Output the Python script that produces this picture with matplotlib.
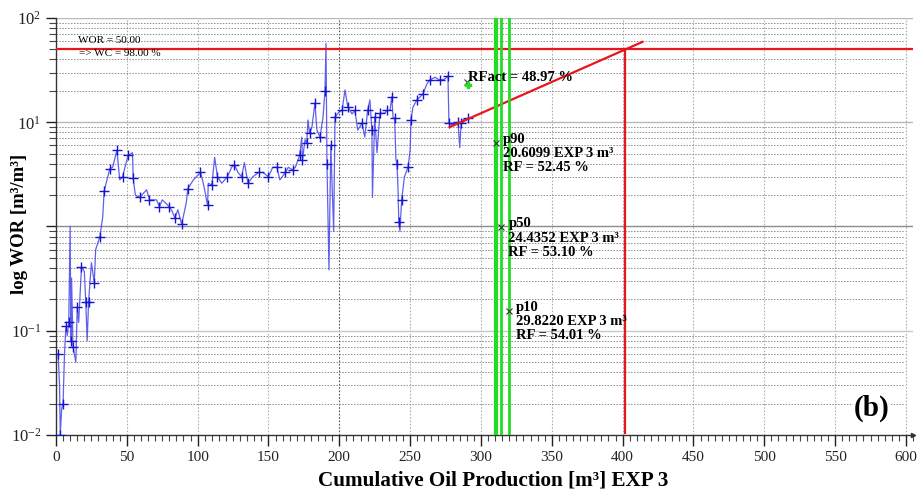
import math
import matplotlib
matplotlib.use('Agg')
import matplotlib.pyplot as plt
from matplotlib.ticker import MultipleLocator, LogLocator, FuncFormatter, NullFormatter

plt.rcParams['font.family'] = ['Liberation Serif', 'DejaVu Serif']
plt.rcParams['mathtext.default'] = 'regular'

# ---- data ----
cum_oil = [1.5, 2.5, 3, 4, 5, 6, 7, 8, 9, 10,
           10.5, 11, 12, 14, 15, 16, 18, 20, 21, 22,
           23, 25, 27, 28, 31, 33, 34, 36, 38, 40,
           43, 45, 47, 50, 51, 54, 54.5, 56, 59, 64,
           66, 71, 73, 75, 80, 82, 84, 86, 88.7, 92,
           93, 97, 102, 104, 107, 107.5, 110, 112, 114, 117,
           121, 124, 126, 128.5, 131, 133, 135.5, 139, 143, 146,
           150, 153, 156, 158, 162, 164, 167, 169, 172, 173.5,
           174, 175.8, 177, 177.9, 179, 180.7, 182.8, 184.2, 186.4, 188.5,
           189.9, 190.6, 191.3, 192.7, 194, 196, 197, 199, 202, 204,
           206, 209, 211, 213, 216, 218, 220, 221.6, 223, 223.4,
           225, 226.6, 228.7, 232, 233.7, 235.8, 237, 238, 239, 240,
           240.7, 241.4, 242, 242.8, 244, 246, 248.5, 250, 250.6, 252,
           254.8, 257, 259, 262, 264, 267.5, 271, 274.6, 276.7, 277,
           277.4, 280, 283.8, 285, 286, 287, 290.8]
wor = [0.06, 0.03, 0.01, 0.018, 0.02, 0.06, 0.11, 0.09, 0.12, 1.0,
       0.08, 0.32, 0.07, 0.05, 0.17, 0.12, 0.41, 0.37, 0.19, 0.08,
       0.19, 0.45, 0.29, 0.6, 0.8, 1.24, 2.2, 2.8, 3.6, 3.7,
       5.4, 2.8, 3.0, 4.35, 4.8, 5.1, 2.9, 2.0, 1.9, 2.25,
       1.8, 1.8, 1.55, 1.8, 1.55, 1.4, 1.2, 1.45, 1.05, 1.7,
       2.3, 2.8, 3.3, 2.6, 1.6, 2.6, 2.5, 4.6, 3.0, 2.6,
       3.0, 3.7, 3.9, 3.3, 3.0, 4.1, 2.6, 3.0, 3.3, 3.3,
       3.0, 3.7, 3.7, 2.8, 3.3, 3.7, 3.5, 3.7, 4.8, 7.2,
       4.35, 6.8, 6.3, 10.5, 7.9, 9.0, 15.3, 8.4, 7.2, 11.2,
       20.0, 57.0, 4.0, 0.385, 6.0, 0.9, 11.2, 12.2, 13.1, 20.4,
       14.0, 12.0, 13.0, 8.4, 9.8, 7.2, 13.0, 16.4, 8.4, 1.9,
       11.2, 5.1, 12.2, 12.2, 13.0, 13.0, 17.5, 11.0, 11.0, 4.35,
       4.0, 2.4, 1.1, 0.9, 1.8, 3.0, 3.7, 5.4, 10.5, 14.0,
       16.4, 17.5, 18.7, 23.6, 25.4, 27.0, 25.4, 26.0, 28.0, 17.0,
       9.8, 9.4, 10.0, 5.7, 9.8, 10.5, 10.9]

wor_limit = 50.0
decline_x = [278, 414]
decline_y = [9.0, 59.0]
economic_limit_x = 402
p_labels = ['p90', 'p50', 'p10']
p_x = [310.6, 314.4, 319.8]
p_wor = [6.3, 0.98, 0.156]
p_reserves = ['20.6099', '24.4352', '29.8220']
p_rf = ['52.45', '53.10', '54.01']
rfact_x, rfact_y = 290, 24.4
rfact_text = 'RFact = 48.97 %'

# ---- figure ----
W, H = 918, 490
fig = plt.figure(figsize=(W / 100, H / 100), dpi=100)
x0, x1, y0, y1 = 56, 913, 435, 18
ax = fig.add_axes([x0 / W, 1 - y0 / H, (x1 - x0) / W, (y0 - y1) / H])
ax.set_yscale('log')
ax.set_xlim(0, 605)
ax.set_ylim(0.01, 100)

gx = (905 - x0) / (x1 - x0)
# grid
for v in range(50, 601, 50):
    ax.axvline(v, color='#555555' if v == 200 else '#b0b0b0', lw=0.8,
               ls=(0, (1.5, 1.5)), zorder=0)
for k in [-2, -1, 0, 1]:
    for m in range(2, 10):
        ax.axhline(m * 10 ** k, xmax=gx, color='#8a8a8a', lw=0.7,
                   ls=(0, (1.5, 1.5)), zorder=0)
for v, c in [(0.1, '#c8c8c8'), (1, '#8c8c8c'), (10, '#b8b8b8'), (100, '#b8b8b8')]:
    ax.axhline(v, color=c, lw=1.0, zorder=0)

# data series
ax.plot(cum_oil, wor, color='#3838e8', lw=0.9, alpha=0.8, zorder=3)
ax.plot(cum_oil, wor, ls='none', zorder=3,
        marker='+', markevery=2, ms=7, mew=1.0, mec='#1515d0')

# red limit & decline
ax.axhline(wor_limit, color='#e8161b', lw=1.6, zorder=4)
ax.plot(decline_x, decline_y, color='#e8161b', lw=1.6, zorder=4)
ax.plot([economic_limit_x, economic_limit_x], [0.0105, wor_limit],
        color='#e8161b', lw=1.6, zorder=4)

# green p-lines
for xv, lw in zip(p_x, [3.0, 2.0, 2.0]):
    ax.axvline(xv, color='#22dd22', lw=lw, zorder=4)

# markers and labels
for lab, xv, yv, res, rf in zip(p_labels, p_x, p_wor, p_reserves, p_rf):
    ax.plot(xv, yv, marker='x', ms=5, mew=0.8, color='#333333', zorder=6)
    ax.text(xv + 5.0, yv * 1.25, f'{lab}\n{res} EXP 3 m³\nRF = {rf} %',
            fontsize=10.5, fontweight='bold', va='top', ha='left',
            linespacing=1.12, zorder=7)

ax.plot(rfact_x, rfact_y, marker='x', ms=5, mew=0.8, color='#333333', zorder=6)
ax.plot(rfact_x + 0.8, rfact_y * 0.93, marker='P', ms=4, color='#22dd22', zorder=6)
ax.text(rfact_x + 1, rfact_y * 1.1, rfact_text, fontsize=10.5, fontweight='bold',
        va='center', ha='left', zorder=7)

ax.text(15.5, 61.5, 'WOR = 50.00', fontsize=8, va='center', ha='left', zorder=7)
ax.text(16.5, 46.0, '=> WC = 98.00 %', fontsize=8, va='center', ha='left', zorder=7)

ax.text(576, 0.018, '(b)', fontsize=21, fontweight='bold', va='center', ha='center',
        zorder=8, bbox=dict(facecolor='white', edgecolor='none', pad=1))

# axes styling
for s in ['top', 'right']:
    ax.spines[s].set_visible(False)
for s in ['left', 'bottom']:
    ax.spines[s].set_linewidth(1.0)
    ax.spines[s].set_color('#333333')
ax.plot([0], [1.08], marker='^', ms=3, color='#333333', transform=ax.transAxes, clip_on=False)
ax.plot([1.0], [0], marker='>', ms=3, color='#333333', transform=ax.transAxes, clip_on=False)

ax.xaxis.set_major_locator(MultipleLocator(50))
ax.xaxis.set_minor_locator(MultipleLocator(5))
ax.tick_params(axis='x', which='major', length=8, width=1, direction='out', labelsize=11, colors='#222222')
ax.tick_params(axis='x', which='minor', length=4, width=0.8, direction='out', colors='#444444')
ax.yaxis.set_major_locator(LogLocator(base=10, numticks=10))
ax.yaxis.set_minor_locator(LogLocator(base=10, subs=range(2, 10), numticks=50))
ax.yaxis.set_minor_formatter(NullFormatter())


def _ylab(v, p):
    e = round(math.log10(v))
    return '' if e == 0 else r'$10^{%d}$' % e


ax.yaxis.set_major_formatter(FuncFormatter(_ylab))
ax.tick_params(axis='y', which='major', length=7, width=1, direction='out', labelsize=12, colors='#222222')
ax.tick_params(axis='y', which='minor', length=5, width=0.8, direction='out', colors='#444444')

ax.set_xlabel('Cumulative Oil Production [m³] EXP 3', fontsize=15.2, fontweight='bold')
ax.xaxis.set_label_coords(0.51, -0.085)
ax.set_ylabel('log WOR [m³/m³]', fontsize=13.5, fontweight='bold')
ax.yaxis.set_label_coords(-0.033, 0.506)

fig.savefig('out.png', dpi=100)
